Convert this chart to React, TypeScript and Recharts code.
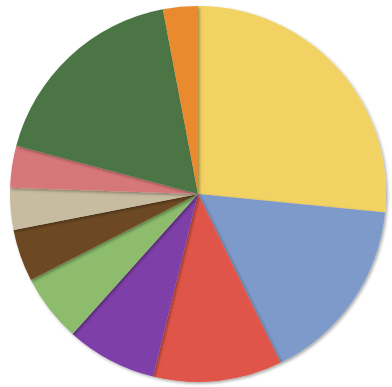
import { PieChart, Pie, Cell } from 'recharts';

const names = ['Yellow', 'Blue', 'Red', 'Purple', 'Light green', 'Brown', 'Tan', 'Pink', 'Dark green', 'Orange'];
const values = [26.6, 16.2, 11.1, 7.8, 5.8, 4.5, 3.6, 3.6, 17.9, 3.0];
const colors = ['#f2d262', '#7e9aca', '#e0554a', '#7e3fa8', '#8cbc6c', '#6c4a23', '#c7bc9f', '#d6777a', '#4b7545', '#ea8a2e'];

const data = names.map((name, i) => ({ name, value: values[i] }));

export default function App() {
    return (
        <div style={{ position: 'absolute', left: 0, top: 0, width: 392, height: 387, background: '#fff' }}>
            <svg width={0} height={0} style={{ position: 'absolute' }}>
                <defs>
                    <filter id="sliceShadow" x="-20%" y="-20%" width="140%" height="140%">
                        <feDropShadow dx={1.5} dy={1.5} stdDeviation={1.6} floodColor="#000" floodOpacity={0.35} />
                    </filter>
                    <filter id="pieGlow" x="-10%" y="-10%" width="120%" height="120%">
                        <feDropShadow dx={0} dy={1} stdDeviation={3} floodColor="#000" floodOpacity={0.25} />
                    </filter>
                </defs>
            </svg>
            <PieChart width={392} height={387} margin={{ top: 0, right: 0, bottom: 0, left: 0 }}>
                <Pie
                    data={data}
                    dataKey="value"
                    nameKey="name"
                    cx={198}
                    cy={194}
                    outerRadius={188}
                    startAngle={90}
                    endAngle={-270}
                    stroke="none"
                    isAnimationActive={false}
                    style={{ filter: 'url(#pieGlow)' }}
                >
                    {data.map((d, i) => (
                        <Cell key={d.name} fill={colors[i]} style={{ filter: 'url(#sliceShadow)' }} />
                    ))}
                </Pie>
            </PieChart>
        </div>
    );
}
